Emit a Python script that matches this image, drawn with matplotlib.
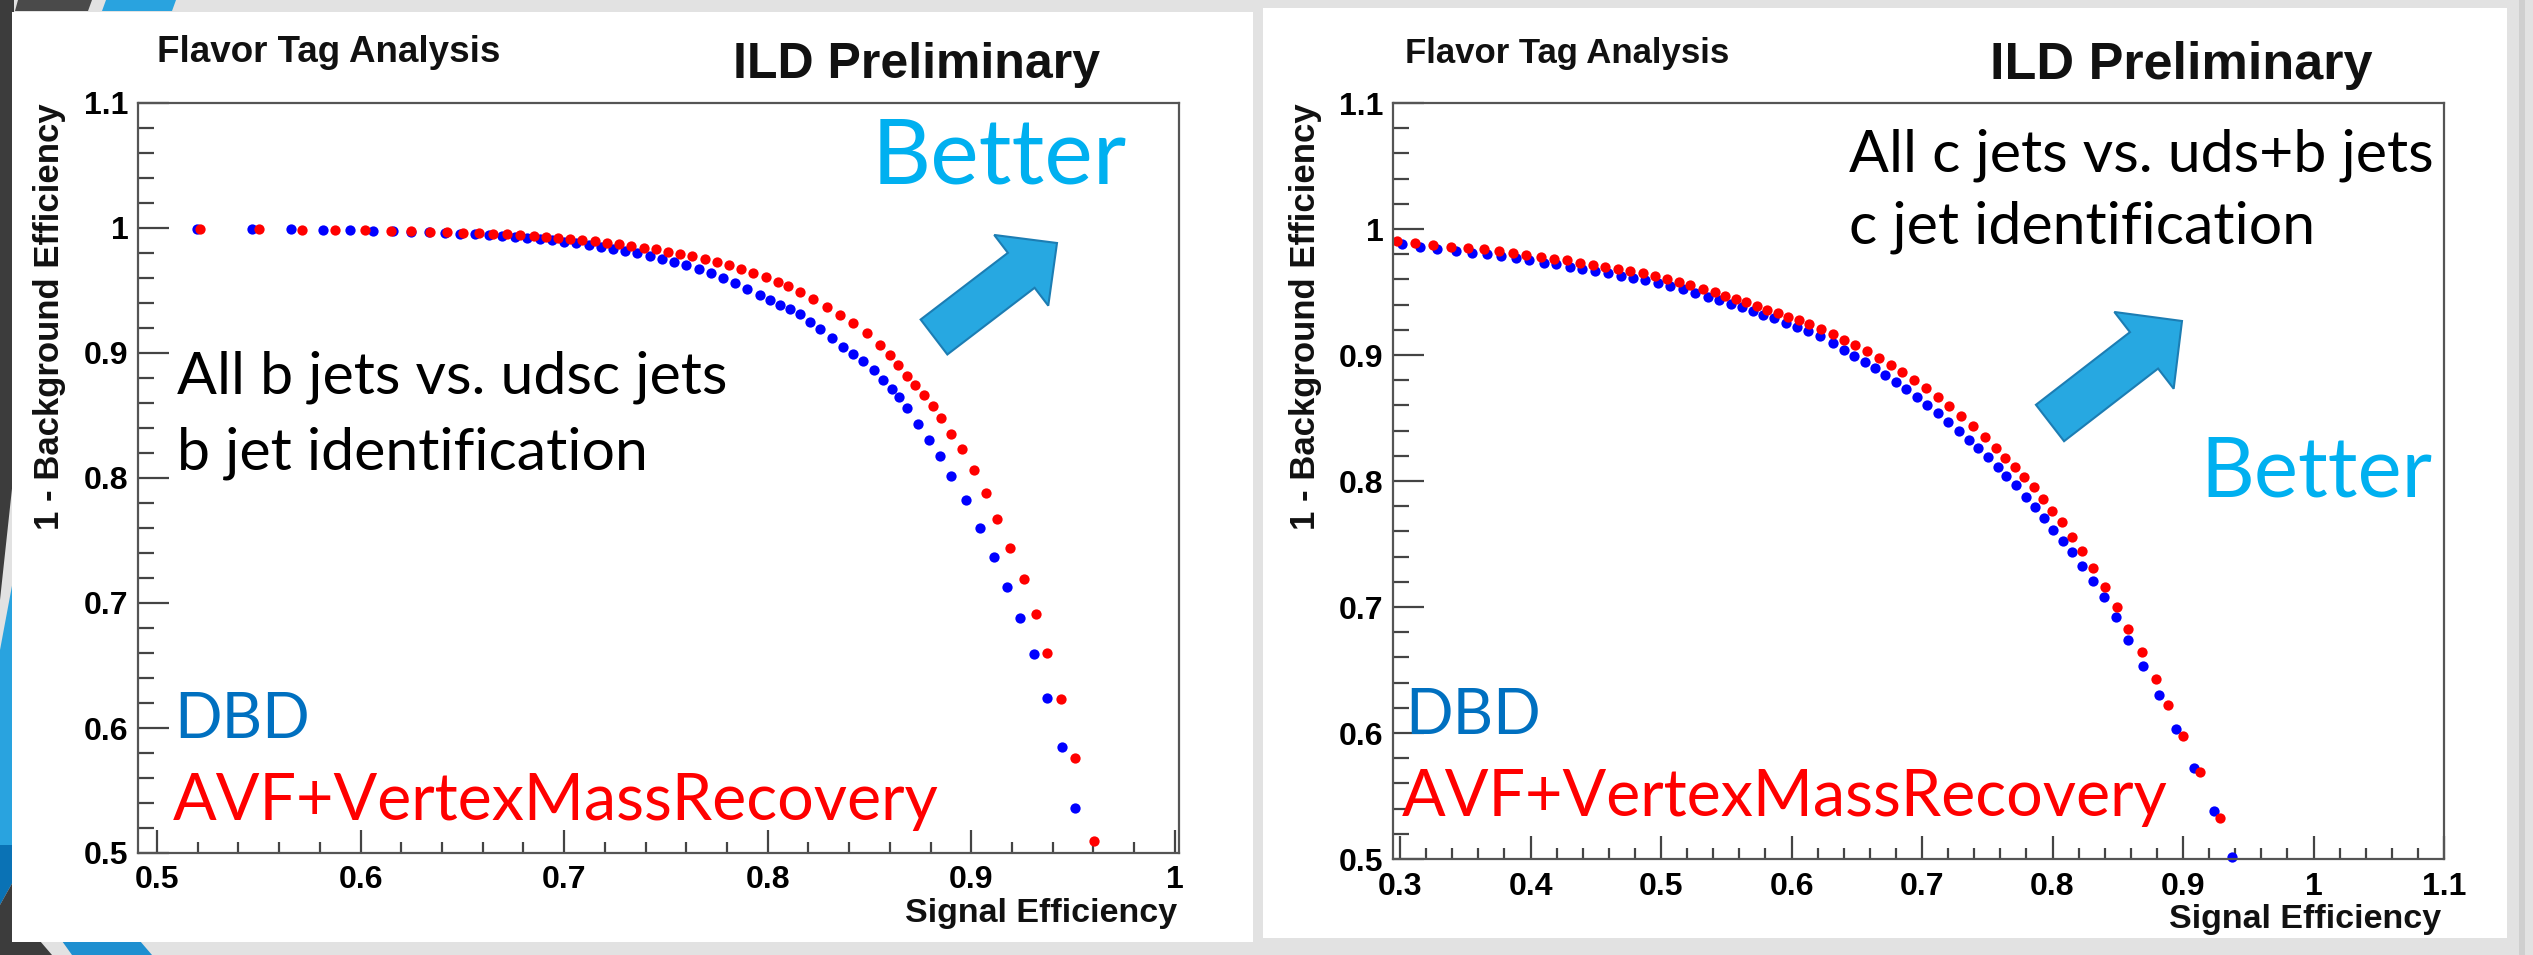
import matplotlib
matplotlib.use("Agg")
import numpy as np
import matplotlib.pyplot as plt
from matplotlib.patches import Polygon, Rectangle, FancyArrow
from matplotlib.transforms import Affine2D
from matplotlib.ticker import FixedLocator, FuncFormatter

W, H = 2533, 955

# b jet identification (all b jets vs. udsc jets)
b_dbd_eff = [0.5196, 0.5467, 0.5657, 0.5815, 0.5948, 0.6060, 0.6160, 0.6250, 0.6335, 0.6415,
             0.6490, 0.6560, 0.6630, 0.6695, 0.6760, 0.6820, 0.6880, 0.6940, 0.7000, 0.7060,
             0.7120, 0.7180, 0.7240, 0.7300, 0.7360, 0.7420, 0.7480, 0.7540, 0.7600, 0.7660,
             0.7720, 0.7780, 0.7840, 0.7900, 0.7960, 0.8010, 0.8060, 0.8110, 0.8158, 0.8207,
             0.8257, 0.8314, 0.8371, 0.8420, 0.8469, 0.8522, 0.8567, 0.8609, 0.8646, 0.8685,
             0.8739, 0.8793, 0.8846, 0.8898, 0.8972, 0.9044, 0.9110, 0.9176, 0.9240, 0.9309,
             0.9371, 0.9447, 0.9510]
b_dbd_rej = [0.9994, 0.9991, 0.9988, 0.9985, 0.9981, 0.9977, 0.9973, 0.9969, 0.9964, 0.9959,
             0.9954, 0.9948, 0.9942, 0.9935, 0.9927, 0.9919, 0.9910, 0.9900, 0.9889, 0.9877,
             0.9864, 0.9850, 0.9834, 0.9817, 0.9798, 0.9777, 0.9754, 0.9729, 0.9701, 0.9670,
             0.9636, 0.9599, 0.9558, 0.9514, 0.9467, 0.9427, 0.9387, 0.9349, 0.9310, 0.9250,
             0.9190, 0.9117, 0.9050, 0.8995, 0.8935, 0.8860, 0.8785, 0.8715, 0.8645, 0.8560,
             0.8435, 0.8305, 0.8175, 0.8016, 0.7820, 0.7600, 0.7370, 0.7130, 0.6878, 0.6590,
             0.6238, 0.5850, 0.5362]
b_avf_eff = [0.5210, 0.5501, 0.5711, 0.5874, 0.6022, 0.6148, 0.6250, 0.6340, 0.6425, 0.6505,
             0.6580, 0.6650, 0.6720, 0.6785, 0.6850, 0.6910, 0.6970, 0.7030, 0.7090, 0.7150,
             0.7210, 0.7270, 0.7330, 0.7390, 0.7450, 0.7510, 0.7570, 0.7630, 0.7690, 0.7750,
             0.7810, 0.7870, 0.7930, 0.7990, 0.8050, 0.8100, 0.8158, 0.8224, 0.8290, 0.8355,
             0.8420, 0.8486, 0.8551, 0.8600, 0.8641, 0.8682, 0.8723, 0.8767, 0.8810, 0.8849,
             0.8898, 0.8955, 0.9013, 0.9070, 0.9127, 0.9191, 0.9260, 0.9316, 0.9371, 0.9439,
             0.9510, 0.9602]
b_avf_rej = [0.9992, 0.9990, 0.9987, 0.9984, 0.9981, 0.9978, 0.9975, 0.9971, 0.9967, 0.9963,
             0.9958, 0.9953, 0.9948, 0.9942, 0.9935, 0.9928, 0.9920, 0.9912, 0.9903, 0.9893,
             0.9882, 0.9870, 0.9857, 0.9843, 0.9828, 0.9811, 0.9793, 0.9773, 0.9751, 0.9727,
             0.9701, 0.9672, 0.9640, 0.9605, 0.9567, 0.9532, 0.9490, 0.9430, 0.9370, 0.9304,
             0.9237, 0.9157, 0.9064, 0.8984, 0.8900, 0.8818, 0.8740, 0.8660, 0.8575, 0.8480,
             0.8355, 0.8230, 0.8064, 0.7882, 0.7670, 0.7440, 0.7190, 0.6910, 0.6602, 0.6230,
             0.5762, 0.5098]

# c jet identification (all c jets vs. uds+b jets)
c_dbd_eff = [0.3014, 0.3152, 0.3284, 0.3425, 0.3549, 0.3667, 0.3770, 0.3887, 0.3990, 0.4102,
             0.4196, 0.4299, 0.4396, 0.4496, 0.4593, 0.4690, 0.4784, 0.4878, 0.4975, 0.5072,
             0.5167, 0.5261, 0.5358, 0.5446, 0.5534, 0.5623, 0.5705, 0.5784, 0.5867, 0.5955,
             0.6043, 0.6123, 0.6220, 0.6314, 0.6402, 0.6480, 0.6560, 0.6640, 0.6720, 0.6800,
             0.6880, 0.6960, 0.7040, 0.7120, 0.7200, 0.7280, 0.7360, 0.7430, 0.7506, 0.7579,
             0.7647, 0.7718, 0.7794, 0.7865, 0.7932, 0.8006, 0.8079, 0.8153, 0.8226, 0.8309,
             0.8394, 0.8485, 0.8579, 0.8697, 0.8815, 0.8947, 0.9088, 0.9241, 0.9376]
c_dbd_rej = [0.9880, 0.9858, 0.9840, 0.9827, 0.9813, 0.9800, 0.9787, 0.9767, 0.9752, 0.9734,
             0.9720, 0.9702, 0.9686, 0.9670, 0.9649, 0.9628, 0.9612, 0.9592, 0.9569, 0.9546,
             0.9520, 0.9490, 0.9462, 0.9435, 0.9408, 0.9380, 0.9350, 0.9321, 0.9290, 0.9255,
             0.9221, 0.9187, 0.9147, 0.9095, 0.9042, 0.8996, 0.8947, 0.8895, 0.8841, 0.8785,
             0.8727, 0.8666, 0.8602, 0.8537, 0.8469, 0.8399, 0.8326, 0.8261, 0.8188, 0.8114,
             0.8042, 0.7968, 0.7870, 0.7796, 0.7704, 0.7611, 0.7526, 0.7434, 0.7328, 0.7209,
             0.7077, 0.6918, 0.6738, 0.6534, 0.6302, 0.6032, 0.5722, 0.5384, 0.5019]
c_avf_eff = [0.2975, 0.3114, 0.3255, 0.3387, 0.3520, 0.3643, 0.3755, 0.3867, 0.3967, 0.4078,
             0.4181, 0.4278, 0.4378, 0.4475, 0.4573, 0.4667, 0.4764, 0.4858, 0.4955, 0.5049,
             0.5137, 0.5225, 0.5323, 0.5411, 0.5490, 0.5573, 0.5652, 0.5732, 0.5814, 0.5896,
             0.5976, 0.6055, 0.6137, 0.6226, 0.6314, 0.6402, 0.6490, 0.6580, 0.6670, 0.6760,
             0.6850, 0.6940, 0.7030, 0.7120, 0.7210, 0.7300, 0.7390, 0.7480, 0.7565, 0.7638,
             0.7712, 0.7785, 0.7859, 0.7924, 0.7997, 0.8071, 0.8153, 0.8226, 0.8309, 0.8403,
             0.8491, 0.8579, 0.8682, 0.8794, 0.8888, 0.9000, 0.9132, 0.9285]
c_avf_rej = [0.9907, 0.9888, 0.9872, 0.9861, 0.9851, 0.9840, 0.9824, 0.9808, 0.9795, 0.9781,
             0.9765, 0.9752, 0.9733, 0.9717, 0.9701, 0.9685, 0.9667, 0.9648, 0.9627, 0.9603,
             0.9579, 0.9552, 0.9525, 0.9499, 0.9472, 0.9442, 0.9417, 0.9390, 0.9360, 0.9333,
             0.9305, 0.9277, 0.9245, 0.9209, 0.9168, 0.9123, 0.9078, 0.9030, 0.8978, 0.8923,
             0.8865, 0.8803, 0.8737, 0.8667, 0.8593, 0.8515, 0.8433, 0.8347, 0.8262, 0.8183,
             0.8114, 0.8034, 0.7955, 0.7857, 0.7765, 0.7672, 0.7558, 0.7442, 0.7310, 0.7161,
             0.7003, 0.6825, 0.6640, 0.6429, 0.6225, 0.5979, 0.5688, 0.5323]

ROOT_FONT = "Liberation Sans"
SLIDE_FONT = "Lato"
DBD_BLUE = "#0000ff"
AVF_RED = "#ff0000"

fig = plt.figure(figsize=(W / 100, H / 100), dpi=100, facecolor="#e2e2e2")
# pixel coordinates, origin at the top left
px = Affine2D().scale(1.0 / W, -1.0 / H).translate(0, 1) + fig.transFigure


def shape(points, color):
    fig.add_artist(Polygon(points, closed=True, transform=px, facecolor=color,
                           edgecolor="none", zorder=-5))


def box(x, y, w, h, color):
    fig.add_artist(Rectangle((x, y), w, h, transform=px, facecolor=color,
                             edgecolor="none", zorder=-4))


def ptext(x, y, s, **kw):
    return fig.text(x / W, 1 - y / H, s, **kw)


def add_axes_px(x0, y0, x1, y1):
    return fig.add_axes([x0 / W, 1 - y1 / H, (x1 - x0) / W, (y1 - y0) / H])


# slide template decoration
shape([(0, 0), (14, 0), (14, 470), (0, 600)], "#3c3c3c")
shape([(0, 650), (14, 575), (14, 845), (0, 845)], "#29a3df")
shape([(0, 845), (14, 845), (14, 880), (0, 905)], "#0a72b5")
shape([(0, 905), (14, 880), (14, 955), (0, 955)], "#3c3c3c")
shape([(18, 0), (92, 0), (88, 11), (15, 11)], "#4a4a4a")
shape([(106, 0), (176, 0), (172, 11), (102, 11)], "#29a3df")
shape([(0, 941), (40, 941), (52, 955), (0, 955)], "#3c3c3c")
shape([(62, 941), (140, 941), (152, 955), (72, 955)], "#1f8fd0")
box(2519, 0, 6, H, "#cfcfcf")

# white panels
box(12, 12, 1241, 930, "white")
box(1263, 8, 1244, 930, "white")


def style_axes(ax, xlim, xticks):
    ax.set_xlim(*xlim)
    ax.set_ylim(0.5, 1.1)
    ax.xaxis.set_major_locator(FixedLocator(xticks))
    ax.xaxis.set_minor_locator(FixedLocator(np.round(np.arange(xticks[0], xticks[-1] + 0.001, 0.02), 3)))
    ax.yaxis.set_major_locator(FixedLocator(np.round(np.arange(0.5, 1.101, 0.1), 2)))
    ax.yaxis.set_minor_locator(FixedLocator(np.round(np.arange(0.5, 1.101, 0.02), 3)))
    fmt = FuncFormatter(lambda v, pos: f"{v:g}")
    ax.xaxis.set_major_formatter(fmt)
    ax.yaxis.set_major_formatter(fmt)
    ax.tick_params(axis="both", which="both", direction="in", top=False, right=False,
                   color="#444444", width=1.6)
    ax.tick_params(axis="y", which="major", length=22, pad=7)
    ax.tick_params(axis="y", which="minor", length=11.5)
    ax.tick_params(axis="x", which="major", length=16.5, pad=9)
    ax.tick_params(axis="x", which="minor", length=8)
    for lab in ax.get_xticklabels() + ax.get_yticklabels():
        lab.set_fontfamily(ROOT_FONT)
        lab.set_fontweight("bold")
        lab.set_fontsize(23)
    for sp in ax.spines.values():
        sp.set_color("#555555")
        sp.set_linewidth(1.6)
    ax.set_facecolor("white")


def roc(ax, dbd_x, dbd_y, avf_x, avf_y):
    ax.plot(dbd_x, dbd_y, "o", color=DBD_BLUE, markersize=7.4, markeredgewidth=0, clip_on=False)
    ax.plot(avf_x, avf_y, "o", color=AVF_RED, markersize=7.4, markeredgewidth=0, clip_on=False)


def frame_texts(x_flavor, x_ild, y_off, size_flavor, size_ild):
    bold = dict(fontfamily=ROOT_FONT, fontweight="bold", color="#111111")
    ptext(x_flavor, 62 + y_off, "Flavor Tag Analysis", fontsize=size_flavor, va="baseline", **bold)
    ptext(x_ild, 78 + y_off, "ILD Preliminary", fontsize=size_ild, va="baseline", **bold)


def better(x, y, size, tail, tip, width, head_w, head_l):
    ptext(x, y, "Better", fontfamily=SLIDE_FONT, fontsize=size, color="#00b0f0", va="baseline")
    fig.add_artist(FancyArrow(tail[0], tail[1], tip[0] - tail[0], tip[1] - tail[1],
                              width=width, head_width=head_w, head_length=head_l,
                              length_includes_head=True, transform=px,
                              facecolor="#27a8e1", edgecolor="#1c7db3", linewidth=1.5))


# left panel: b tagging
axb = add_axes_px(138, 103, 1179, 853)
style_axes(axb, (0.4907, 1.002), [0.5, 0.6, 0.7, 0.8, 0.9, 1.0])
roc(axb, b_dbd_eff, b_dbd_rej, b_avf_eff, b_avf_rej)
frame_texts(157, 733, 0, 26.5, 36)
ptext(1177, 922, "Signal Efficiency", fontfamily=ROOT_FONT, fontweight="bold", fontsize=24.5,
      ha="right", va="baseline", color="#111111")
ptext(50, 103, "1 - Background Efficiency", fontfamily=ROOT_FONT, fontweight="bold",
      fontsize=25, rotation=90, ha="center", va="top", color="#111111")
ptext(177, 393, "All b jets vs. udsc jets", fontfamily=SLIDE_FONT, fontsize=42.5, va="baseline")
ptext(177, 470, "b jet identification", fontfamily=SLIDE_FONT, fontsize=42.5, va="baseline")
ptext(174, 738, "DBD", fontfamily=SLIDE_FONT, fontsize=45, color="#0070c0", va="baseline")
ptext(173, 820, "AVF+VertexMassRecovery", fontfamily=SLIDE_FONT, fontsize=46.5, color=AVF_RED,
      va="baseline")
better(872, 184, 66, (934, 337), (1057, 243), 44, 89, 45)

# right panel: c tagging
axc = add_axes_px(1393, 103, 2444, 859)
style_axes(axc, (0.2946, 1.1), [0.3, 0.4, 0.5, 0.6, 0.7, 0.8, 0.9, 1.0, 1.1])
roc(axc, c_dbd_eff, c_dbd_rej, c_avf_eff, c_avf_rej)
frame_texts(1405, 1990, 1, 25, 37.5)
ptext(2441, 928, "Signal Efficiency", fontfamily=ROOT_FONT, fontweight="bold", fontsize=24.5,
      ha="right", va="baseline", color="#111111")
ptext(1305, 103, "1 - Background Efficiency", fontfamily=ROOT_FONT, fontweight="bold",
      fontsize=25, rotation=90, ha="center", va="top", color="#111111")
ptext(1849, 171, "All c jets vs. uds+b jets", fontfamily=SLIDE_FONT, fontsize=42.5, va="baseline")
ptext(1849, 244, "c jet identification", fontfamily=SLIDE_FONT, fontsize=42.5, va="baseline")
ptext(1405, 734, "DBD", fontfamily=SLIDE_FONT, fontsize=45, color="#0070c0", va="baseline")
ptext(1402, 816, "AVF+VertexMassRecovery", fontfamily=SLIDE_FONT, fontsize=46.5, color=AVF_RED,
      va="baseline")
better(2200, 496, 60, (2050, 423), (2182, 321), 46, 97, 48)

fig.savefig("out.png", dpi=100, facecolor=fig.get_facecolor())
